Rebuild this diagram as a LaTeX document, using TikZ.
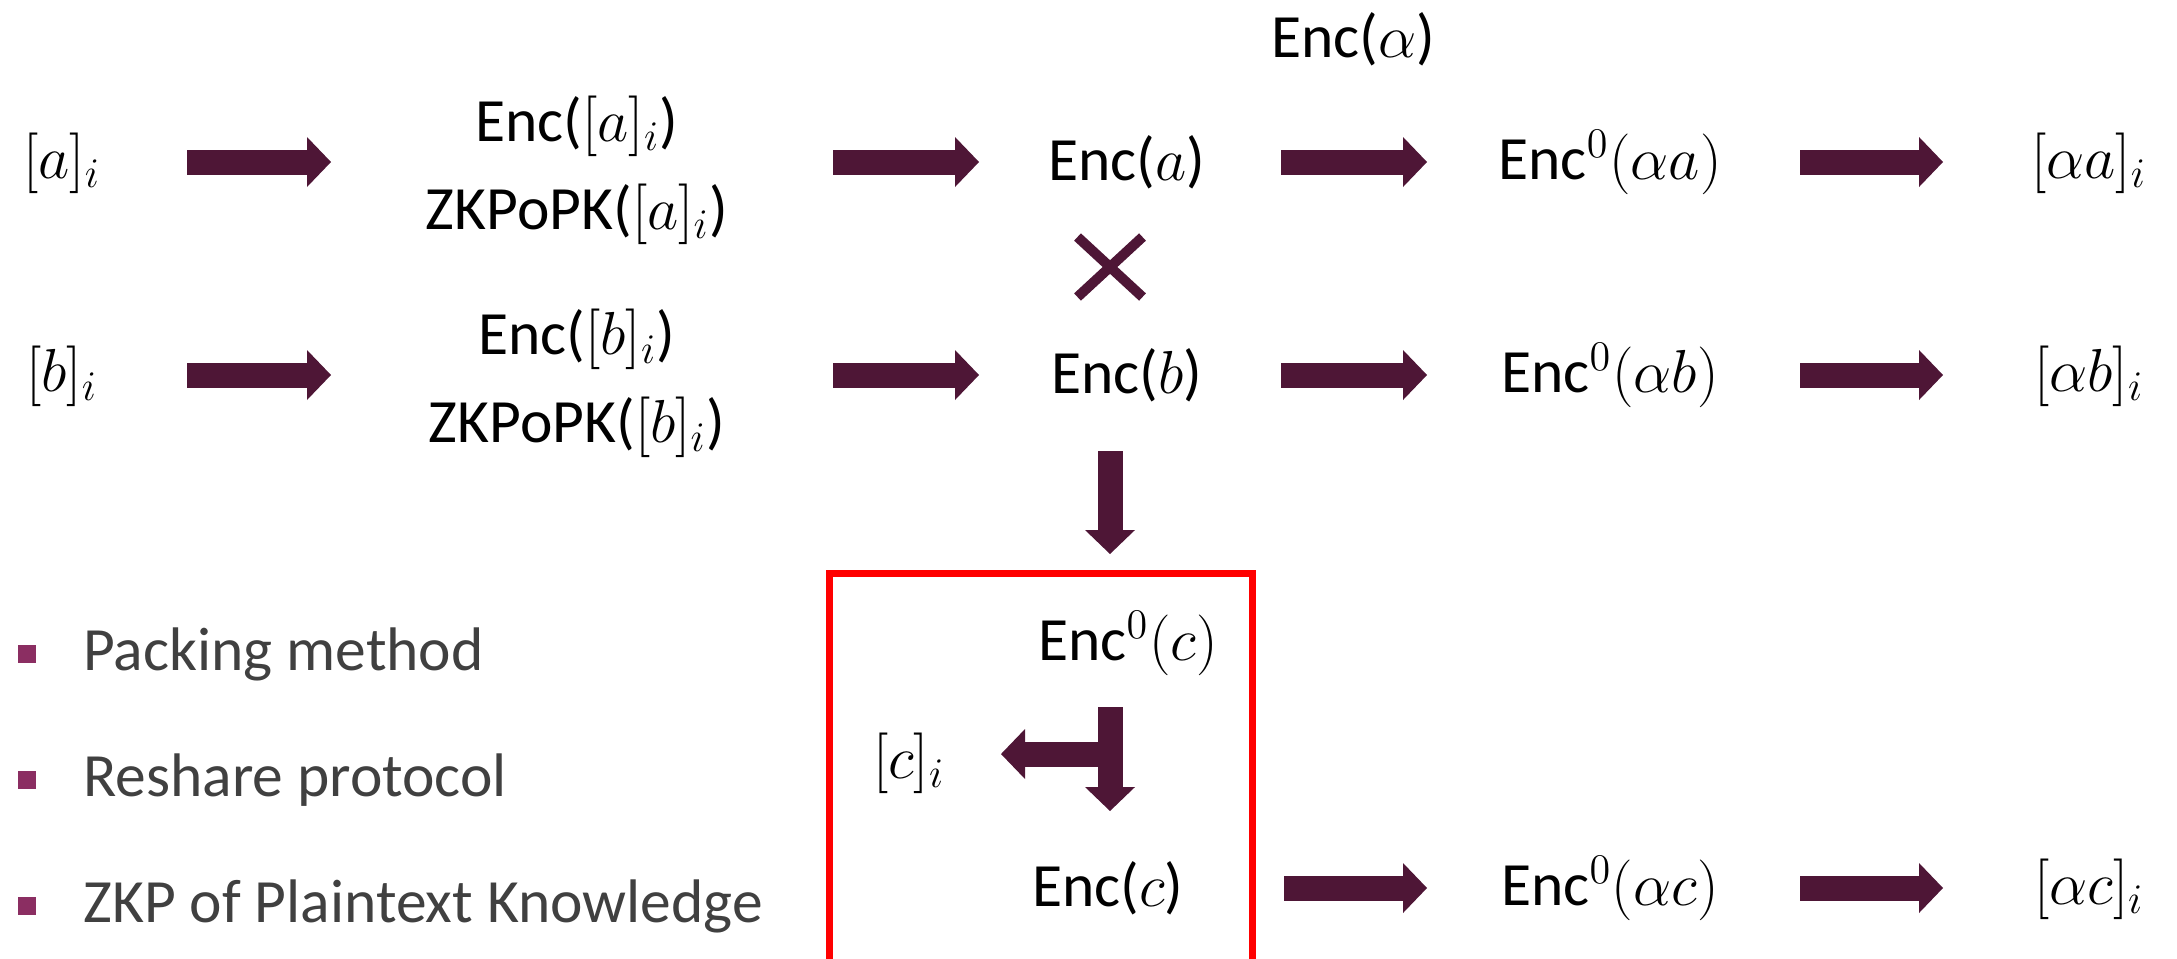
\documentclass[tikz,border=0pt]{standalone}
\usepackage{fontspec}
\setmainfont{Carlito}
\usetikzlibrary{positioning,arrows.meta,shapes.misc}
\definecolor{arrowplum}{RGB}{78,22,54}
\definecolor{markplum}{RGB}{139,46,98}
\definecolor{pointgray}{RGB}{64,64,64}
\tikzset{
  term/.style={font=\fontsize{17.5pt}{21pt}\selectfont, inner sep=0pt, align=center},
  fatarrow/.style={draw=arrowplum, line width=2.5mm,
    -{Triangle[length=2.4mm, width=5mm, line width=0pt]}},
  timesmark/.style={cross out, draw=arrowplum, line width=1mm,
    minimum width=5.5mm, minimum height=5mm},
  redframe/.style={draw=red, line width=0.7mm, inner sep=0pt, outer sep=0pt,
    minimum width=42.3mm, minimum height=45mm, anchor=north west},
  pointmark/.style={fill=markplum, minimum size=1.8mm, inner sep=0pt},
  pointtext/.style={term, text=pointgray, anchor=west},
}

\begin{document}
\begin{tikzpicture}
  \useasboundingbox (0,0) rectangle (21.77,-9.58);
  % Zeile a
  \node[term] (alpha) at (13.53,-0.39) {Enc($\alpha$)};
  \node[term] (shA) at (0.62,-1.63) {$[a]_i$};
  \node[term] (zkA) at (5.77,-1.70) {Enc($[a]_i$)\\[4pt]ZKPoPK($[a]_i$)};
  \node[term] (encA) at (11.27,-1.62) {Enc($a$)};
  \node[term] (mulA) at (16.10,-1.62) {Enc$^0(\alpha a)$};
  \node[term] (outA) at (20.89,-1.63) {$[\alpha a]_i$};
  \node[timesmark] (times) at (11.10,-2.67) {};
  % Zeile b
  \node[term] (shB) at (0.62,-3.76) {$[b]_i$};
  \node[term] (zkB) at (5.77,-3.83) {Enc($[b]_i$)\\[4pt]ZKPoPK($[b]_i$)};
  \node[term] (encB) at (11.27,-3.75) {Enc($b$)};
  \node[term] (mulB) at (16.10,-3.75) {Enc$^0(\alpha b)$};
  \node[term] (outB) at (20.89,-3.76) {$[\alpha b]_i$};
  % Reshare
  \node[redframe] (box) at (8.295,-5.735) {};
  \node[term] (encZC) at (11.28,-6.43) {Enc$^0(c)$};
  \node[term] (shC) at (9.09,-7.63) {$[c]_i$};
  \node[term] (encC) at (11.08,-8.88) {Enc($c$)};
  \node[term] (mulC) at (16.10,-8.88) {Enc$^0(\alpha c)$};
  \node[term] (outC) at (20.89,-8.89) {$[\alpha c]_i$};
  % Pfeile
  \foreach \s/\t/\p/\q in {shA/zkA/1.25cm/2.46cm, zkA/encA/2.56cm/1.48cm,
      encA/mulA/1.54cm/1.83cm, mulA/outA/1.90cm/1.46cm}
    \draw[fatarrow, shorten <=\p, shorten >=\q] (\s |- encA) -- (\t |- encA);
  \foreach \s/\t/\p/\q in {shB/zkB/1.25cm/2.46cm, zkB/encB/2.56cm/1.48cm,
      encB/mulB/1.54cm/1.83cm, mulB/outB/1.90cm/1.46cm}
    \draw[fatarrow, shorten <=\p, shorten >=\q] (\s |- encB) -- (\t |- encB);
  \foreach \s/\t/\p/\q in {encC/mulC/1.76cm/1.83cm, mulC/outC/1.90cm/1.46cm}
    \draw[fatarrow, shorten <=\p, shorten >=\q] (\s |- encC) -- (\t |- encC);
  \draw[fatarrow, shorten <=0.76cm, shorten >=0.195cm] (times |- encB) -- (times |- box.north);
  \coordinate (split) at (11.11,-7.54);
  \draw[fatarrow, shorten >=0.92cm] (split) -- (split -| shC);
  \draw[fatarrow, shorten <=0.64cm, shorten >=0.77cm] (times |- encZC) -- (times |- encC);
  % Stichpunkte
  \node[pointmark] (m1) at (0.27,-6.54) {};
  \node[pointtext, right=0.46cm of m1] (p1) {Packing method};
  \node[pointmark] (m2) at (0.27,-7.80) {};
  \node[pointtext, right=0.46cm of m2] (p2) {Reshare protocol};
  \node[pointmark] (m3) at (0.27,-9.06) {};
  \node[pointtext, right=0.46cm of m3] (p3) {ZKP of Plaintext Knowledge};
\end{tikzpicture}
\end{document}
